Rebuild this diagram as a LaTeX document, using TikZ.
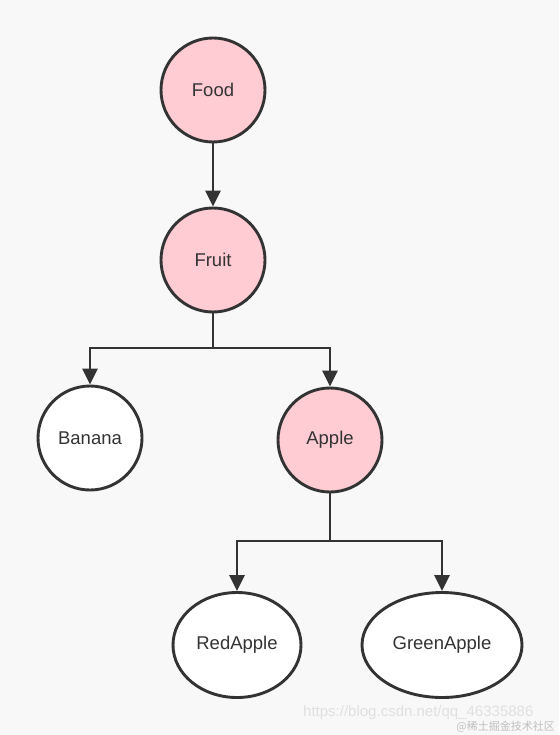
\documentclass[tikz,border=0pt]{standalone}
\usepackage{fontspec}
\setmainfont{Liberation Sans}
\newfontfamily\cjk{Noto Sans CJK SC}
\usetikzlibrary{shapes.geometric,arrows.meta}
\definecolor{bg}{HTML}{F8F8F8}
\definecolor{pinkfill}{HTML}{FFCCD3}
\definecolor{ink}{HTML}{333333}
\tikzset{
  treenode/.style={circle,draw=ink,line width=2.9pt,minimum size=104pt,inner sep=0pt,font=\fontsize{18.5}{20}\selectfont,text=ink},
  ovalnode/.style={ellipse,draw=ink,line width=2.9pt,inner sep=0pt,font=\fontsize{18.5}{20}\selectfont,text=ink,fill=white},
  hot/.style={fill=pinkfill},
  cold/.style={fill=white},
  trunk/.style={draw=ink,line width=2.9pt},
  link/.style={trunk,-{Triangle[length=16pt,width=15pt]}}
}
\begin{document}
\begin{tikzpicture}[x=1pt,y=-1pt]
\fill[bg] (0,0) rectangle (559,735);
\useasboundingbox (0,0) rectangle (559,735);
\node[treenode,hot] (food) at (213,90) {Food};
\node[treenode,hot] (fruit) at (213,260) {Fruit};
\node[treenode,cold] (banana) at (90,438) {Banana};
\node[treenode,hot] (apple) at (330,440) {Apple};
\node[ovalnode,minimum width=128pt,minimum height=105pt] (red) at (237,645) {RedApple};
\node[ovalnode,minimum width=160pt,minimum height=105pt] (green) at (442,645) {GreenApple};
\coordinate (j1) at (213,348);
\coordinate (j2) at (330,541);
\draw[link] (food) -- (fruit);
\draw[trunk] (fruit.south) -- (j1);
\draw[link] (j1) -| (banana.north);
\draw[link] (j1) -| (apple.north);
\draw[trunk] (apple.south) -- (j2);
\draw[link] (j2) -| (red.north);
\draw[link] (j2) -| (green.north);
\node[anchor=west,text=black!12,font=\fontsize{15}{16}\selectfont,inner sep=0pt] (wm1) at (303,713) {https://blog.csdn.net/qq\_46335886};
\node[anchor=east,text=black!25,font=\cjk\fontsize{11}{12}\selectfont,inner sep=0pt] (wm2) at (555,727) {@稀土掘金技术社区};
\end{tikzpicture}
\end{document}
